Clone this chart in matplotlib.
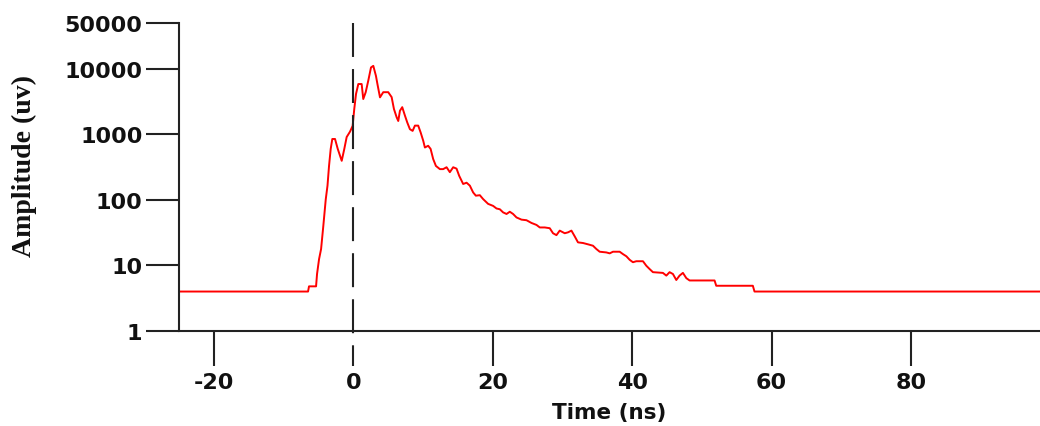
import matplotlib
matplotlib.use("Agg")
import matplotlib.pyplot as plt

# Pulse amplitude vs time
time_ns = [-25, -6.49, -6.35, -5.34, -5.2, -4.91, -4.62, -4.30, -3.95, -3.70,
           -3.48, -3.24, -3.01, -2.62, -2.23, -1.66, -1.29, -0.95, -0.47, -0.09,
           0.14, 0.39, 0.72, 1.20, 1.43, 1.78, 2.15, 2.54, 2.87, 3.25,
           3.47, 3.83, 4.30, 5.01, 5.50, 5.83, 6.22, 6.45, 6.69, 7.02,
           7.41, 7.74, 8.12, 8.51, 8.84, 9.31, 9.66, 10.03, 10.27, 10.74,
           11.09, 11.46, 11.85, 12.42, 12.89, 13.38, 13.85, 14.33, 14.81, 15.19,
           15.76, 16.25, 16.72, 17.19, 17.58, 18.15, 18.62, 19.34, 20.06, 20.54,
           21.02, 21.49, 21.98, 22.45, 22.92, 23.41, 24.13, 24.84, 25.56, 26.28,
           26.75, 27.46, 28.18, 28.65, 29.14, 29.61, 30.33, 30.80, 31.29, 31.76,
           32.23, 32.95, 33.67, 34.38, 34.87, 35.34, 36.30, 36.78, 37.25, 38.21,
           38.68, 39.17, 39.64, 40.11, 40.60, 41.55, 42.03, 42.51, 42.98, 44.41,
           44.90, 45.37, 45.85, 46.33, 46.80, 47.28, 47.77, 48.24, 51.82, 52.06,
           57.31, 57.55, 98.5]
amplitude_uv = [4.0, 4.0, 4.8, 4.8, 7.4, 12.5, 17.8, 40, 102, 165,
                330, 600, 850, 850, 600, 395, 600, 910, 1100, 1350,
                2440, 4130, 5860, 5860, 3460, 4400, 6600, 10500, 11100, 7800,
                5800, 3670, 4400, 4400, 3700, 2440, 1820, 1600, 2290, 2600,
                1930, 1520, 1200, 1130, 1360, 1360, 1070, 800, 630, 670,
                600, 420, 330, 295, 295, 315, 265, 315, 300, 233,
                175, 183, 165, 130, 116, 118, 103, 87, 81, 74,
                72, 64.5, 61, 66, 61, 54, 50, 49, 44.5, 41.5,
                38, 38, 37, 31, 29, 34, 31, 32, 34, 27.8,
                22.5, 22, 21, 20, 17.8, 16.2, 15.8, 15.3, 16.2, 16.2,
                14.9, 13.8, 12.2, 11.2, 11.6, 11.6, 9.9, 8.8, 7.9, 7.7,
                7.0, 7.9, 7.4, 6.0, 7.0, 7.7, 6.4, 5.9, 5.9, 4.9,
                4.9, 4.0, 4.0]

x_ticks = [-20, 0, 20, 40, 60, 80]
y_ticks = [1, 10, 100, 1000, 10000, 50000]
y_tick_labels = ["1", "10", "100", "1000", "10000", "50000"]

axis_color = "#222222"

fig = plt.figure(figsize=(10.4, 4.27), dpi=100)
ax = fig.add_axes([179 / 1040, 1 - 332 / 427, 861 / 1040, 308 / 427])

ax.plot(time_ns, amplitude_uv, color="#ff0000", lw=1.4)
ax.set_yscale("log")
ax.set_xlim(-25, 98.5)
ax.set_ylim(1, 50000)

# dashed marker at t = 0, running past the x axis
ax.plot([0, 0], [1.0, -0.1136], transform=ax.get_xaxis_transform(),
        color=axis_color, lw=1.5, ls=(0, (16.3, 5.8)), clip_on=False)

for side in ["top", "right"]:
    ax.spines[side].set_visible(False)
for side in ["left", "bottom"]:
    ax.spines[side].set_color(axis_color)
    ax.spines[side].set_linewidth(1.5)

ax.set_yticks(y_ticks)
ax.set_yticklabels(y_tick_labels)
ax.minorticks_off()
ax.set_xticks(x_ticks)
ax.set_xticklabels([str(v) for v in x_ticks])
ax.xaxis.get_major_ticks()[1].tick1line.set_visible(False)

ax.tick_params(axis="y", length=23.8, width=1.5, color=axis_color, pad=2.5)
ax.tick_params(axis="x", length=25.2, width=1.5, color=axis_color, pad=4)
for lab in ax.get_xticklabels() + ax.get_yticklabels():
    lab.set_fontfamily("DejaVu Sans")
    lab.set_fontweight("bold")
    lab.set_fontsize(16)
    lab.set_color("#111111")

ax.set_xlabel("Time (ns)", fontsize=15.5, fontweight="bold", family="DejaVu Sans",
              va="center", color="#111111")
ax.xaxis.set_label_coords(0.5, -0.263)
ax.set_ylabel("Amplitude (uv)", fontsize=20, fontweight="bold", family="Liberation Serif",
              va="center", color="#111111")
ax.yaxis.set_label_coords(-0.18, 0.539)

fig.savefig("out.png", dpi=100)
